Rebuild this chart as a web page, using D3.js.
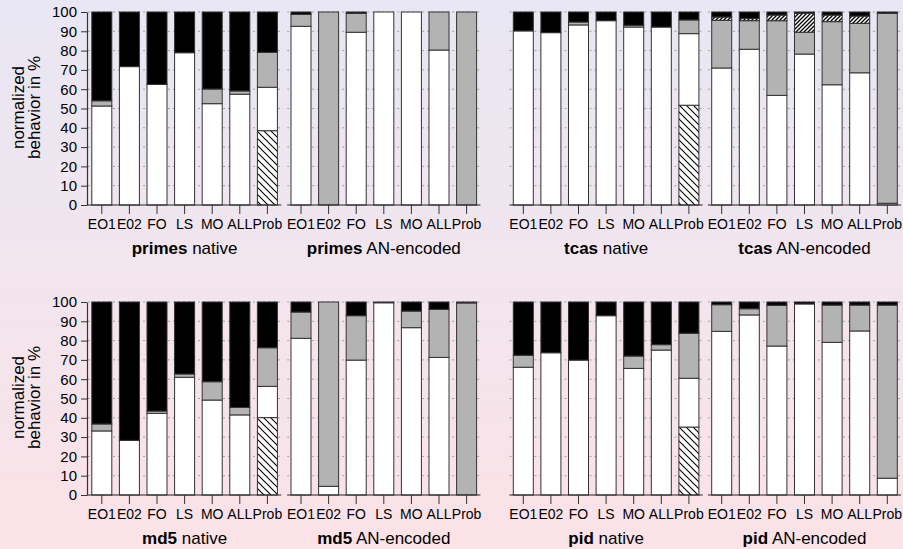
<!DOCTYPE html>
<html><head><meta charset="utf-8">
<script src="https://cdn.jsdelivr.net/npm/d3@7"></script>
<style>html,body{margin:0;padding:0;background:#fff;} svg{display:block;}</style>
</head><body>
<svg id="chart" width="903" height="549"></svg>
<script>
// ---------- DATA ----------
const categories = ["EO1", "E02", "FO", "LS", "MO", "ALL", "Prob"];
const yTickValues = [0, 10, 20, 30, 40, 50, 60, 70, 80, 90, 100];
const programs = ["primes", "tcas", "md5", "pid"];
const variants = ["native", "AN-encoded"];
const segmentKeys = ["hatchWide", "white", "gray", "hatchDense", "black"];

// primes native
const primesNativeHatchWide  = [0, 0, 0, 0, 0, 0, 38.5];
const primesNativeWhite      = [51.3, 71.7, 62.5, 78.9, 52.5, 57.4, 22.5];
const primesNativeGray       = [2.7, 0, 0, 0, 7.6, 1.7, 18.1];
const primesNativeHatchDense = [0, 0, 0, 0, 0, 0, 0];
const primesNativeBlack      = [46.0, 28.3, 37.5, 21.1, 39.9, 40.9, 20.9];
// primes AN-encoded
const primesANHatchWide  = [0, 0, 0, 0, 0, 0, 0];
const primesANWhite      = [92.6, 0, 89.5, 100, 100, 80.3, 0];
const primesANGray       = [6.2, 100, 9.8, 0, 0, 19.7, 100];
const primesANHatchDense = [0, 0, 0, 0, 0, 0, 0];
const primesANBlack      = [1.2, 0, 0.7, 0, 0, 0, 0];
// tcas native
const tcasNativeHatchWide  = [0, 0, 0, 0, 0, 0, 51.7];
const tcasNativeWhite      = [90.2, 89.3, 93.3, 95.5, 92.2, 92.2, 37.1];
const tcasNativeGray       = [0, 0, 1.5, 0, 0.9, 0, 7.1];
const tcasNativeHatchDense = [0, 0, 0, 0, 0, 0, 0];
const tcasNativeBlack      = [9.8, 10.7, 5.2, 4.5, 6.9, 7.8, 4.1];
// tcas AN-encoded
const tcasANHatchWide  = [0, 0, 0, 0, 0, 0, 0];
const tcasANWhite      = [71.0, 80.7, 56.8, 78.2, 62.3, 68.5, 0.9];
const tcasANGray       = [24.7, 14.8, 38.7, 11.3, 32.7, 25.6, 98.4];
const tcasANHatchDense = [1.7, 1.1, 2.9, 9.8, 3.4, 3.8, 0];
const tcasANBlack      = [2.6, 3.4, 1.6, 0.7, 1.6, 2.1, 0.7];
// md5 native
const md5NativeHatchWide  = [0, 0, 0, 0, 0, 0, 40.1];
const md5NativeWhite      = [33.2, 28.3, 42.3, 61.0, 49.2, 41.5, 16.2];
const md5NativeGray       = [3.6, 0, 1.2, 1.7, 9.5, 3.9, 20.0];
const md5NativeHatchDense = [0, 0, 0, 0, 0, 0, 0];
const md5NativeBlack      = [63.2, 71.7, 56.5, 37.3, 41.3, 54.6, 23.7];
// md5 AN-encoded
const md5ANHatchWide  = [0, 0, 0, 0, 0, 0, 0];
const md5ANWhite      = [81.2, 4.5, 69.9, 99.6, 86.7, 71.3, 0];
const md5ANGray       = [13.6, 95.5, 23.0, 0, 8.6, 24.9, 99.5];
const md5ANHatchDense = [0, 0, 0, 0, 0, 0, 0];
const md5ANBlack      = [5.2, 0, 7.1, 0.4, 4.7, 3.8, 0.5];
// pid native
const pidNativeHatchWide  = [0, 0, 0, 0, 0, 0, 35.2];
const pidNativeWhite      = [66.2, 73.7, 69.9, 92.9, 65.6, 75.1, 25.3];
const pidNativeGray       = [6.2, 0, 0, 0, 6.4, 2.8, 23.3];
const pidNativeHatchDense = [0, 0, 0, 0, 0, 0, 0];
const pidNativeBlack      = [27.6, 26.3, 30.1, 7.1, 28.0, 22.1, 16.2];
// pid AN-encoded
const pidANHatchWide  = [0, 0, 0, 0, 0, 0, 0];
const pidANWhite      = [84.8, 93.3, 77.2, 99.0, 79.1, 85.0, 8.7];
const pidANGray       = [13.8, 3.2, 21.1, 0, 19.3, 13.4, 89.7];
const pidANHatchDense = [0, 0, 0, 0, 0, 0, 0];
const pidANBlack      = [1.4, 3.5, 1.7, 1.0, 1.6, 1.6, 1.6];

const panelSeries = [
  [primesNativeHatchWide, primesNativeWhite, primesNativeGray, primesNativeHatchDense, primesNativeBlack],
  [primesANHatchWide, primesANWhite, primesANGray, primesANHatchDense, primesANBlack],
  [tcasNativeHatchWide, tcasNativeWhite, tcasNativeGray, tcasNativeHatchDense, tcasNativeBlack],
  [tcasANHatchWide, tcasANWhite, tcasANGray, tcasANHatchDense, tcasANBlack],
  [md5NativeHatchWide, md5NativeWhite, md5NativeGray, md5NativeHatchDense, md5NativeBlack],
  [md5ANHatchWide, md5ANWhite, md5ANGray, md5ANHatchDense, md5ANBlack],
  [pidNativeHatchWide, pidNativeWhite, pidNativeGray, pidNativeHatchDense, pidNativeBlack],
  [pidANHatchWide, pidANWhite, pidANGray, pidANHatchDense, pidANBlack]
];

// ---------- LAYOUT ----------
const W = 903, H = 549;
const svg = d3.select("#chart");
const FONT = "'Liberation Sans', Arial, Helvetica, sans-serif";

const defs = svg.append("defs");
const grad = defs.append("linearGradient").attr("id", "bg").attr("x1", 0).attr("y1", 0).attr("x2", 0).attr("y2", 1);
grad.append("stop").attr("offset", "0%").attr("stop-color", "#e8e7f3");
grad.append("stop").attr("offset", "50%").attr("stop-color", "#f2e5ee");
grad.append("stop").attr("offset", "100%").attr("stop-color", "#fbe2e7");
svg.append("rect").attr("width", W).attr("height", H).attr("fill", "url(#bg)");

// hatch patterns
const pw = defs.append("pattern").attr("id", "hatchWide").attr("patternUnits", "userSpaceOnUse")
  .attr("width", 7).attr("height", 7);
pw.append("rect").attr("width", 7).attr("height", 7).attr("fill", "#fff");
pw.append("path").attr("d", "M-1,-1 L8,8 M-1,6 L1,8 M6,-1 L8,1").attr("stroke", "#000").attr("stroke-width", 1.1);

const pd = defs.append("pattern").attr("id", "hatchDense").attr("patternUnits", "userSpaceOnUse")
  .attr("width", 4).attr("height", 4);
pd.append("rect").attr("width", 4).attr("height", 4).attr("fill", "#fff");
pd.append("path").attr("d", "M-1,5 L5,-1 M-1,1 L1,-1 M3,5 L5,3").attr("stroke", "#000").attr("stroke-width", 1.3);

const fills = {hatchWide: "url(#hatchWide)", white: "#ffffff", gray: "#b3b3b3", hatchDense: "url(#hatchDense)", black: "#000000"};

const panelX0 = [88, 287.2, 509.5, 707.9];
const panelWidth = 193.2;
const rowBase = [205, 495];
const plotH = 193;

const stack = d3.stack().keys(segmentKeys);

panelSeries.forEach((series, pi) => {
  const row = Math.floor(pi / 4);
  const col = pi % 4;
  const prog = programs[row * 2 + Math.floor(col / 2)];
  const variant = variants[col % 2];
  const x0 = panelX0[col];
  const base = rowBase[row];

  const x = d3.scaleBand().domain(categories).range([x0, x0 + panelWidth])
    .paddingInner(0.275).paddingOuter(0.1375);
  const y = d3.scaleLinear().domain([0, 100]).range([base, base - plotH]);

  const g = svg.append("g");

  // gridlines
  g.append("g").selectAll("line").data(yTickValues.filter(v => v > 0)).join("line")
    .attr("x1", x0).attr("x2", x0 + panelWidth)
    .attr("y1", d => y(d)).attr("y2", d => y(d))
    .attr("stroke", "#a0a0a0").attr("stroke-width", 1).attr("stroke-dasharray", "2,3");

  // bars
  const rows = categories.map((c, i) => {
    const r = {cat: c};
    segmentKeys.forEach((k, si) => r[k] = series[si][i]);
    return r;
  });
  const stacked = stack(rows);
  stacked.forEach(layer => {
    g.append("g").selectAll("rect").data(layer.filter(d => d[1] - d[0] > 0)).join("rect")
      .attr("x", d => x(d.data.cat))
      .attr("width", x.bandwidth())
      .attr("y", d => y(d[1]))
      .attr("height", d => y(d[0]) - y(d[1]))
      .attr("fill", fills[layer.key])
      .attr("stroke", "#333")
      .attr("stroke-width", 1);
  });

  // x axis
  const xAxis = d3.axisBottom(x).tickSize(9).tickSizeOuter(0).tickPadding(5);
  const ax = g.append("g").attr("transform", `translate(0,${base})`).call(xAxis);
  ax.select(".domain").attr("stroke", "#222").attr("stroke-width", 1.2)
    .attr("d", `M${col === 0 ? x0 - 1 : x0},0H${x0 + panelWidth}`);
  ax.selectAll(".tick line").attr("stroke", "#333");
  ax.selectAll(".tick text").attr("font-family", FONT).attr("font-size", 14).attr("fill", "#000");

  // panel title
  const t = g.append("text").attr("x", x0 + panelWidth / 2).attr("y", base + 49)
    .attr("text-anchor", "middle").attr("font-family", FONT).attr("font-size", 17).attr("fill", "#000");
  t.append("tspan").attr("font-weight", "bold").text(prog);
  t.append("tspan").text(" " + variant);

  // y axis (only first panel in each row)
  if (col === 0) {
    const yAxis = d3.axisLeft(y).tickValues(yTickValues).tickSize(6).tickSizeOuter(0).tickPadding(4);
    const ay = g.append("g").attr("transform", `translate(${x0 - 1},0)`).call(yAxis);
    ay.select(".domain").attr("stroke", "#333").attr("stroke-width", 1.2);
    ay.selectAll(".tick line").attr("stroke", "#333");
    ay.selectAll(".tick text").attr("font-family", FONT).attr("font-size", 15).attr("fill", "#000");

    const cy = base - plotH / 2 - 1;
    g.append("text").attr("transform", `translate(23.5,${cy}) rotate(-90)`)
      .attr("text-anchor", "middle").attr("font-family", FONT).attr("font-size", 17).text("normalized");
    g.append("text").attr("transform", `translate(39.5,${cy}) rotate(-90)`)
      .attr("text-anchor", "middle").attr("font-family", FONT).attr("font-size", 17).text("behavior in %");
  }
});
</script>
</body></html>
